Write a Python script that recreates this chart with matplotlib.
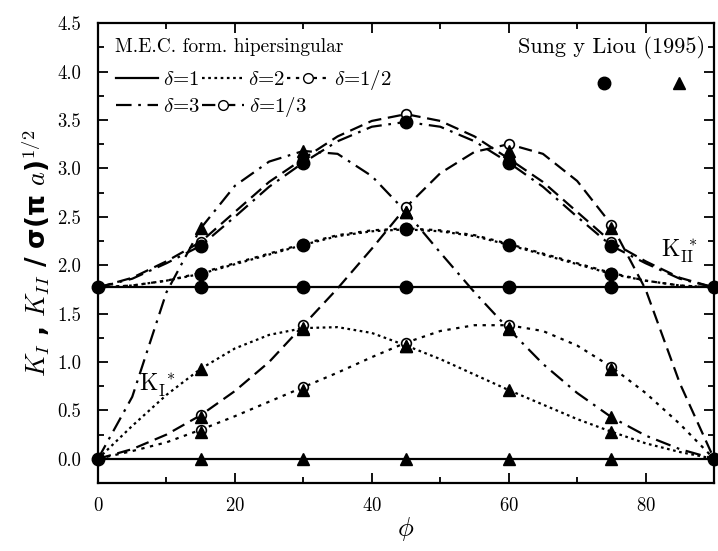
import matplotlib
matplotlib.use("Agg")
import matplotlib.pyplot as plt
from matplotlib.lines import Line2D
from matplotlib.ticker import MultipleLocator, FormatStrFormatter

plt.rcParams['font.family'] = ['cmr10', 'DejaVu Serif']
plt.rcParams['mathtext.fontset'] = 'cm'
plt.rcParams['axes.unicode_minus'] = False
plt.rcParams['axes.formatter.use_mathtext'] = True

# curves of the method (read every 5 degrees)
phi = [0, 5, 10, 15, 20, 25, 30, 35, 40, 45, 50, 55, 60, 65, 70, 75, 80, 85, 90]

kI_d1 = [0] * 19
kII_d1 = [1.77] * 19

kI_d2 = [0, 0.34, 0.66, 0.93, 1.14, 1.28, 1.35, 1.36, 1.30, 1.17, 1.03, 0.87, 0.71, 0.56, 0.41, 0.28, 0.16, 0.07, 0]
kII_d2 = [1.77, 1.79, 1.84, 1.91, 2.01, 2.11, 2.21, 2.30, 2.35, 2.37, 2.35, 2.30, 2.21, 2.11, 2.01, 1.91, 1.84, 1.79, 1.77]

kI_d12 = [0, 0.08, 0.17, 0.30, 0.44, 0.59, 0.74, 0.89, 1.05, 1.20, 1.32, 1.38, 1.38, 1.32, 1.17, 0.95, 0.68, 0.36, 0]
kII_d12 = [1.77, 1.79, 1.84, 1.92, 2.02, 2.12, 2.22, 2.31, 2.36, 2.38, 2.36, 2.31, 2.22, 2.12, 2.02, 1.92, 1.84, 1.79, 1.77]

kI_d3 = [0, 0.64, 1.72, 2.38, 2.82, 3.07, 3.18, 3.15, 2.92, 2.55, 2.13, 1.72, 1.34, 0.98, 0.68, 0.43, 0.24, 0.10, 0]
kII_d3 = [1.77, 1.86, 2.02, 2.20, 2.50, 2.81, 3.06, 3.28, 3.43, 3.48, 3.43, 3.28, 3.06, 2.81, 2.50, 2.20, 2.02, 1.86, 1.77]

kI_d13 = [0, 0.10, 0.25, 0.45, 0.70, 1.00, 1.38, 1.76, 2.17, 2.60, 2.95, 3.17, 3.25, 3.15, 2.87, 2.42, 1.75, 0.78, 0]
kII_d13 = [1.77, 1.87, 2.04, 2.24, 2.55, 2.86, 3.10, 3.33, 3.49, 3.56, 3.49, 3.33, 3.10, 2.86, 2.55, 2.24, 2.04, 1.87, 1.77]

# Sung y Liou (1995)
sung_phi = [0, 15, 30, 45, 60, 75, 90]
sung_kII_d1 = [1.77, 1.77, 1.77, 1.77, 1.77, 1.77, 1.77]
sung_phi_in = [15, 30, 45, 60, 75]
sung_kII_d2 = [1.91, 2.21, 2.37, 2.21, 1.91]
sung_kII_d3 = [2.20, 3.06, 3.48, 3.06, 2.20]
sung_kI_d1 = [0, 0, 0, 0, 0]
sung_kI_d2 = [0.93, 1.35, 1.17, 0.71, 0.28]
sung_kI_d12 = [0.28, 0.71, 1.17, 1.35, 0.93]
sung_kI_d3 = [2.38, 3.18, 2.55, 1.34, 0.43]
sung_kI_d13 = [0.43, 1.34, 2.55, 3.18, 2.38]
sung_ends_phi = [0, 90]
sung_ends_k = [0, 0]

fig = plt.figure(figsize=(7.18, 5.51), dpi=100)
ax = fig.add_axes([0.1365, 0.1234, 0.858, 0.8346])

lw = 1.6
ls_d2 = (0, (1.2, 1.6))
ls_d12 = (0, (1.5, 2.5))
ls_d3 = (0, (7, 3, 1.2, 3))
ls_d13 = (0, (6, 3))
every = slice(3, 16, 3)
ocirc = dict(marker='o', ms=7, mfc='white', mec='k', mew=1.2, markevery=every)

ax.plot(phi, kII_d1, '-', color='k', lw=lw)
ax.plot(phi, kI_d1, '-', color='k', lw=lw)
ax.plot(phi, kII_d2, color='k', lw=lw, ls=ls_d2)
ax.plot(phi, kI_d2, color='k', lw=lw, ls=ls_d2)
ax.plot(phi, kII_d12, color='k', lw=lw, ls=ls_d12, **ocirc)
ax.plot(phi, kI_d12, color='k', lw=lw, ls=ls_d12, **ocirc)
ax.plot(phi, kII_d3, color='k', lw=lw, ls=ls_d3)
ax.plot(phi, kI_d3, color='k', lw=lw, ls=ls_d3)
ax.plot(phi, kII_d13, color='k', lw=lw, ls=ls_d13, **ocirc)
ax.plot(phi, kI_d13, color='k', lw=lw, ls=ls_d13, **ocirc)

circ = dict(marker='o', ms=9, color='k', ls='none', clip_on=False, zorder=5)
tri = dict(marker='^', ms=8.5, color='k', ls='none', clip_on=False, zorder=5)
ax.plot(sung_phi, sung_kII_d1, **circ)
ax.plot(sung_phi_in, sung_kII_d2, **circ)
ax.plot(sung_phi_in, sung_kII_d3, **circ)
ax.plot(sung_ends_phi, sung_ends_k, **circ)
for ys in (sung_kI_d1, sung_kI_d2, sung_kI_d12, sung_kI_d3, sung_kI_d13):
    ax.plot(sung_phi_in, ys, **tri)

ax.set_xlim(0, 90)
ax.set_ylim(-0.25, 4.5)
ax.xaxis.set_major_locator(MultipleLocator(20))
ax.xaxis.set_minor_locator(MultipleLocator(10))
ax.yaxis.set_major_locator(MultipleLocator(0.5))
ax.yaxis.set_minor_locator(MultipleLocator(0.25))
ax.yaxis.set_major_formatter(FormatStrFormatter('%.1f'))
ax.tick_params(which='both', direction='in', top=True, right=True, labelsize=13.5, width=1.3)
ax.tick_params(which='major', length=7)
ax.tick_params(axis='x', which='major', pad=10)
ax.tick_params(axis='y', which='major', pad=12)
ax.tick_params(which='minor', length=4)
for s in ax.spines.values():
    s.set_linewidth(1.6)

ax.set_xlabel(r'$\phi$', fontsize=19, labelpad=0)
ax.set_ylabel(r'$K_{I}$ , $K_{II}$ / σ(π $a$)$^{\mathbf{1/2}}$', fontsize=19,
              family='DejaVu Sans', weight='bold', labelpad=4)

ax.text(6.0, 0.70, r'$\mathrm{K}_{\mathrm{I}}^{\ *}$', fontsize=17)
ax.text(82.3, 2.08, r'$\mathrm{K}_{\mathrm{II}}^{\ *}$', fontsize=17)

# legend of the method, two rows
ax.text(0.028, 0.948, 'M.E.C. form. hipersingular', transform=ax.transAxes,
        fontsize=14, va='center', ha='left')

def handle(ls, circle=False):
    if circle:
        return Line2D([0, 0.5, 1], [0, 0, 0], color='k', lw=lw, ls=ls, marker='o', ms=7,
                      mfc='white', mec='k', markevery=[1])
    return Line2D([], [], color='k', lw=lw, ls=ls)

leg_kw = dict(frameon=False, fontsize=15, handlelength=2.0, handletextpad=0.25,
              columnspacing=0.1, borderaxespad=0, borderpad=0, loc='center left')
leg1 = ax.legend([handle('-'), handle(ls_d2), handle(ls_d12, True)],
                 [r'$\delta$=1', r'$\delta$=2', r'$\delta$=1/2'], ncol=3,
                 bbox_to_anchor=(0.03, 0.876), **leg_kw)
ax.add_artist(leg1)
leg2 = ax.legend([handle(ls_d3), handle(ls_d13, True)],
                 [r'$\delta$=3', r'$\delta$=1/3'], ncol=2,
                 bbox_to_anchor=(0.03, 0.817), **leg_kw)
ax.add_artist(leg2)

# legend of Sung y Liou
ax.text(0.986, 0.948, 'Sung y Liou (1995)', transform=ax.transAxes,
        fontsize=16, va='center', ha='right')
h2 = [Line2D([], [], marker='o', ms=9, color='k', ls='none'),
      Line2D([], [], marker='^', ms=8.5, color='k', ls='none')]
ax.legend(h2, ['', ''], ncol=2, loc='center', bbox_to_anchor=(0.883, 0.865),
          frameon=False, fontsize=15, handlelength=1, handletextpad=0,
          columnspacing=2.6, borderaxespad=0, borderpad=0)

fig.savefig('out.png', dpi=100)
